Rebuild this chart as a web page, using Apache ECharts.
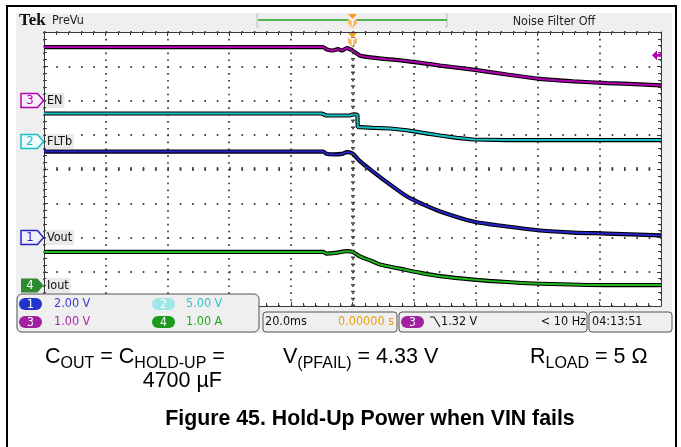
<!DOCTYPE html>
<html><head><meta charset="utf-8">
<script src="https://cdn.jsdelivr.net/npm/echarts@6/dist/echarts.min.js"></script>
<style>html,body{margin:0;padding:0;background:#fff}#c{width:681px;height:447px}</style>
</head><body><div id="c"></div>
<script>
// ---- data (time in ms relative to trigger, values in channel units) ----
const enTimeMs   = [-100, -9.6, -8.3, -6.3, -4.7, -3.4, -1.8, 0, 1.1, 2.4, 6.6, 17.7, 28.4, 39.1, 50.1, 60.8, 71.5, 82.5, 93.2, 100];
const enVolts    = [1.56, 1.56, 1.49, 1.46, 1.50, 1.46, 1.53, 1.46, 1.39, 1.31, 1.25, 1.15, 1.02, 0.90, 0.76, 0.63, 0.56, 0.51, 0.47, 0.44];

const fltbTimeMs = [-100, -10, -8.5, -1, 0.5, 1.6, 1.7, 2.4, 6.7, 12.2, 17.6, 22.8, 28.4, 33.8, 39.1, 50, 100];
const fltbVolts  = [4.10, 4.10, 3.81, 3.81, 4.00, 3.90, 2.10, 2.10, 2.01, 1.91, 1.66, 1.28, 0.89, 0.55, 0.31, 0.22, 0.22];

const voutTimeMs = [-100, -9.5, -8.5, -6, -3.5, -1.8, 0, 2.4, 6.6, 12.2, 17.7, 22.9, 28.4, 39.1, 50.1, 60.8, 71.5, 82.5, 100];
const voutVolts  = [5.02, 5.02, 4.89, 4.85, 4.88, 4.98, 4.91, 4.46, 3.85, 3.09, 2.39, 1.93, 1.52, 0.93, 0.64, 0.41, 0.29, 0.23, 0.12];

const ioutTimeMs = [-100, -9.5, -8.5, -5.5, -1.8, 0, 2.4, 6.6, 8.9, 15.4, 21.9, 28.4, 39.1, 50.1, 60.8, 82.5, 100];
const ioutAmps   = [0.98, 0.98, 0.93, 0.95, 1.00, 0.98, 0.85, 0.70, 0.61, 0.49, 0.37, 0.27, 0.17, 0.10, 0.05, 0.01, 0.01];

const timeRangeMs = [-100, 100];   // 10 div x 20.0 ms
const timePerDiv = 20;
const vertDivs = 8;
const triggerLevel = 1.32;         // V on ch3

// channel settings (scale per division and ground position in divisions)
const channels = [
  {num:'3', label:'EN',   t:enTimeMs,   v:enVolts,   perDiv:1.0, ground:6.0, color:'#b400b4', fill:'#faf0fa', solid:false, smooth:0.25},
  {num:'2', label:'FLTb', t:fltbTimeMs, v:fltbVolts, perDiv:5.0, ground:4.8, color:'#18c0c4', fill:'#f0fafa', solid:false, smooth:false},
  {num:'1', label:'Vout', t:voutTimeMs, v:voutVolts, perDiv:2.0, ground:2.0, color:'#2424c8', fill:'#f0f0fa', solid:false, smooth:0.3},
  {num:'4', label:'Iout', t:ioutTimeMs, v:ioutAmps,  perDiv:1.0, ground:0.6, color:'#20b820', fill:'#2e8a2e', solid:true, smooth:0.3}
];

const NARROW = '"DejaVu Sans Condensed","Liberation Sans Narrow","DejaVu Sans",sans-serif';
const ARIAL = '"Liberation Sans",Arial,sans-serif';
const FRAME = '#3a3a3a';

const chart = echarts.init(document.getElementById('c'), null, {renderer:'canvas'});

const series = [];
series.push({
  type:'line', data:[], z:1, silent:true,
  markLine:{silent:true, symbol:'none', label:{show:false}, animation:false,
    data:[
      {xAxis:0, lineStyle:{color:'#444', width:4, type:[1.5,5.35]}},
      {yAxis:vertDivs/2, lineStyle:{color:'#444', width:4, type:[1.5,10.84]}}
    ]}
});
channels.forEach(ch => {
  const pts = ch.t.map((t,i) => [t, ch.ground + ch.v[i]/ch.perDiv]);
  series.push({type:'line', data:pts, symbol:'none', smooth:ch.smooth, z:3, silent:true,
    lineStyle:{color:'#000', width:4.2}});
  series.push({type:'line', data:pts, symbol:'none', smooth:ch.smooth, z:4, silent:true,
    lineStyle:{color:ch.color, width:2}});
});

function xAx(pos, split){
  return {type:'value', min:timeRangeMs[0], max:timeRangeMs[1], interval:timePerDiv, position:pos,
    axisLine:{show:true, onZero:false, lineStyle:{color:FRAME, width:1}},
    axisTick:{show:true, inside:true, length:4, lineStyle:{color:FRAME}},
    minorTick:{show:true, splitNumber:5, length:3, lineStyle:{color:FRAME}},
    axisLabel:{show:false},
    splitLine:{show:split, lineStyle:{color:'#444', width:1.8, type:[1.6,5.25]}}};
}
function yAx(pos, split){
  return {type:'value', min:0, max:vertDivs, interval:1, position:pos,
    axisLine:{show:true, onZero:false, lineStyle:{color:FRAME, width:1}},
    axisTick:{show:true, inside:true, length:4, lineStyle:{color:FRAME}},
    minorTick:{show:true, splitNumber:5, length:3, lineStyle:{color:FRAME}},
    axisLabel:{show:false},
    splitLine:{show:split, lineStyle:{color:'#444', width:1.8, type:[1.6,10.74]}}};
}

const GRID = {left:44, right:20, top:32, bottom:141};
chart.setOption({
  animation:false,
  backgroundColor:'#fff',
  grid:GRID,
  xAxis:[xAx('bottom', true), xAx('top', false)],
  yAxis:[yAx('left', true), yAx('right', false)],
  series:series
});

// ---- decorations positioned from the chart scales ----
function px(t, d){ return chart.convertToPixel({gridIndex:0}, [t, d]); }
const g = [];
const tl = px(timeRangeMs[0], vertDivs), br = px(timeRangeMs[1], 0);
g.push({type:'rect', z:-20, shape:{x:7, y:6, width:669, height:470}, style:{fill:'#fff', stroke:'#000', lineWidth:2}});
g.push({type:'rect', z:-19, shape:{x:16, y:13, width:656, height:320}, style:{fill:'#efefef'}});
g.push({type:'rect', z:-18, shape:{x:tl[0], y:tl[1], width:br[0]-tl[0], height:br[1]-tl[1]}, style:{fill:'#fff'}});

function text(x, y, s, st, z){
  return {type:'text', x:x, y:y, z:z||60, style:Object.assign({text:s, fontSize:12, fontFamily:NARROW, fill:'#000', verticalAlign:'middle', align:'left'}, st||{})};
}
// top bar
g.push(text(19, 21, 'Tek', {fontSize:17, fontWeight:'bold', fontFamily:'"Liberation Serif","DejaVu Serif",serif', fill:'#111'}));
g.push(text(52, 21, 'PreVu', {fontSize:12.5, fill:'#222'}));
g.push(text(554, 22, 'Noise Filter Off', {fontSize:12.5, fill:'#222', align:'center'}));
g.push({type:'polyline', z:30, shape:{points:[[259,14],[257,14],[257,27],[259,27]]}, style:{stroke:'#bbb', lineWidth:1, fill:null}});
g.push({type:'polyline', z:30, shape:{points:[[445,14],[447,14],[447,27],[445,27]]}, style:{stroke:'#bbb', lineWidth:1, fill:null}});
g.push({type:'line', z:31, shape:{x1:258, y1:20, x2:447, y2:20}, style:{stroke:'#1fa01f', lineWidth:1.5}});

// trigger position markers
const trgX = px(0, 0)[0];
function trigMarker(y0){
  g.push({type:'polygon', z:70, shape:{points:[[trgX-4.5,y0],[trgX+4.5,y0],[trgX,y0+5]]}, style:{fill:'#f0a020'}});
  g.push({type:'polygon', z:70, shape:{points:[[trgX-4.5,y0+5],[trgX+4.5,y0+5],[trgX+4.5,y0+10],[trgX,y0+14],[trgX-4.5,y0+10]]}, style:{fill:'#f6bb6a'}});
  g.push(text(trgX, y0+9.5, 'T', {fontSize:8, fontWeight:'bold', fill:'#fff', align:'center'}, 71));
}
trigMarker(14);
trigMarker(33);

// trigger level arrow on the right (ch3)
const ch3 = channels[0];
const lvY = px(0, ch3.ground + triggerLevel/ch3.perDiv)[1];
g.push({type:'polygon', z:70, shape:{points:[[652,lvY],[657,lvY-5],[657,lvY-1.5],[661,lvY-1.5],[661,lvY+1.5],[657,lvY+1.5],[657,lvY+5]]}, style:{fill:ch3.color}});

// channel ground markers + labels
channels.forEach(ch => {
  const y = px(timeRangeMs[0], ch.ground)[1];
  g.push({type:'polygon', z:70, shape:{points:[[21,y-7],[37.5,y-7],[43.5,y],[37.5,y+7],[21,y+7]]},
    style:{fill:ch.fill, stroke:ch.solid?null:ch.color, lineWidth:1.5}});
  g.push(text(30, y+0.5, ch.num, {fontSize:13, fill:ch.solid?'#fff':ch.color, align:'center'}, 71));
  g.push(text(46, y, ch.label, {fontSize:12.5, fill:'#111', backgroundColor:'#e9e9e9', padding:[1,2,1,1]}, 71));
});

// scale readout box
const Z = 100;
g.push({type:'rect', z:Z, shape:{x:17, y:294, width:242, height:38, r:5}, style:{fill:'#efefef', stroke:'#555', lineWidth:1}});
function pill(x, y, num, fill){
  g.push({type:'rect', z:Z+1, shape:{x:x, y:y-6, width:23, height:12, r:6}, style:{fill:fill}});
  g.push(text(x+11.5, y+0.5, num, {fontSize:12, fill:'#fff', align:'center'}, Z+2));
}
pill(19, 304, '1', '#2233cc'); g.push(text(54, 304, '2.00 V', {fontSize:12.5, fill:'#3a3ad8'}, Z+2));
pill(152, 304, '2', '#9fe6e8'); g.push(text(186, 304, '5.00 V', {fontSize:12.5, fill:'#30c4c8'}, Z+2));
pill(19, 322, '3', '#a020a0'); g.push(text(54, 322, '1.00 V', {fontSize:12.5, fill:'#a828a8'}, Z+2));
pill(152, 322, '4', '#1c9a1c'); g.push(text(186, 322, '1.00 A', {fontSize:12.5, fill:'#22a822'}, Z+2));

// timebase box
g.push({type:'rect', z:Z, shape:{x:263, y:312, width:134, height:20, r:3}, style:{fill:'#efefef', stroke:'#555', lineWidth:1}});
g.push(text(265, 322, '20.0ms', {fontSize:12.5, fill:'#111'}, Z+2));
g.push(text(394, 322, '0.00000 s', {fontSize:12.5, fill:'#e8a010', align:'right'}, Z+2));
// trigger box
g.push({type:'rect', z:Z, shape:{x:399, y:312, width:188, height:20, r:3}, style:{fill:'#efefef', stroke:'#555', lineWidth:1}});
pill(401, 322, '3', '#a020a0');
g.push({type:'polyline', z:Z+2, shape:{points:[[430,317],[434,317],[440,327]]}, style:{stroke:'#222', lineWidth:1.2, fill:null}});
g.push(text(441, 322, '1.32 V', {fontSize:12.5, fill:'#111'}, Z+2));
g.push(text(586, 322, '< 10 Hz', {fontSize:12.5, fill:'#111', align:'right'}, Z+2));
// clock box
g.push({type:'rect', z:Z, shape:{x:589, y:312, width:83, height:20, r:3}, style:{fill:'#efefef', stroke:'#555', lineWidth:1}});
g.push(text(592, 322, '04:13:51', {fontSize:12.5, fill:'#111'}, Z+2));

// captions
const capRich = {
  m:{fontSize:21.5, fontFamily:ARIAL, fill:'#000'},
  s:{fontSize:16, fontFamily:ARIAL, fill:'#000', padding:[14,0,0,0]}
};
function cap(x, y, s, align){
  g.push({type:'text', x:x, y:y, z:60, style:{text:s, rich:capRich, verticalAlign:'middle', align:align||'left'}});
}
cap(45, 357, '{m|C}{s|OUT}{m| = C}{s|HOLD-UP}{m| =}');
cap(222, 381, '{m|4700 µF}', 'right');
cap(283, 357, '{m|V}{s|(PFAIL)}{m| = 4.33 V}');
cap(530, 357, '{m|R}{s|LOAD}{m| = 5 Ω}');
g.push(text(370, 419, 'Figure 45. Hold-Up Power when VIN fails', {fontSize:21.3, fontWeight:'bold', fontFamily:ARIAL, fill:'#000', align:'center'}));

chart.setOption({graphic:{elements:g}});
</script>
</body></html>
